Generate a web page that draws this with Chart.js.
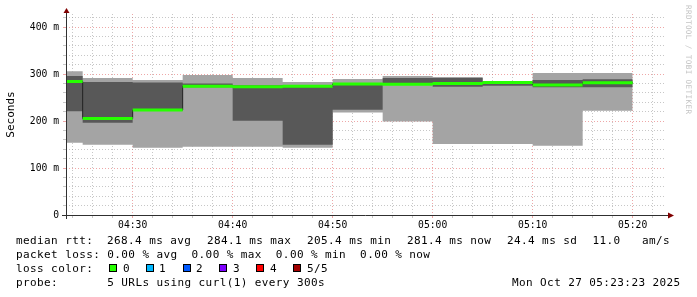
<!DOCTYPE html>
<html>
<head>
<meta charset="utf-8">
<script src="https://cdn.jsdelivr.net/npm/chart.js@4.4.1/dist/chart.umd.min.js"></script>
<style>
  html, body { margin: 0; padding: 0; background: #fff; }
  #wrap { position: relative; width: 697px; height: 297px; overflow: hidden; }
  #c { position: absolute; left: 0; top: 0; }
  .lg, .bl { position: absolute; left: 16px; font: 11px 'DejaVu Sans Mono', monospace; letter-spacing: 0.4px;
        white-space: pre; line-height: 14px; color: #000; }
  .box { position: absolute; top: 264px; width: 8px; height: 8px; box-sizing: border-box; border: 1px solid #000; }
</style>
</head>
<body>
<div id="wrap">
  <canvas id="c" width="697" height="297"></canvas>
  <div id="rtt"></div>
  <div class="lg" style="top:248px">packet loss: 0.00 % avg  0.00 % max  0.00 % min  0.00 % now</div>
  <div class="lg" style="top:262px">loss color:</div>
  <div id="losskey"></div>
  <div class="lg" style="top:276px">probe:       5 URLs using curl(1) every 300s</div>
  <div class="lg" style="top:276px;left:512px">Mon Oct 27 05:23:23 2025</div>
</div>
<script>
// 5-minute smokeping steps (5 pings each, sorted), values in ms
var stepStarts = ['04:20', '04:25', '04:30', '04:35', '04:40', '04:45', '04:50', '04:55', '05:00', '05:05', '05:10', '05:15'];
var stepEnd = '05:20';
var rttMin    = [154, 149.5, 143, 145, 145, 143, 218, 199, 151, 151, 147.5, 222];
var rttLow    = [221, 196.5, 222, 272, 200.5, 149.5, 224, 278, 273, 275, 272, 272];
var rttMedian = [284.1, 205.4, 223.4, 274, 273, 273.8, 279, 278.4, 279.8, 282, 276.6, 281.4];
var rttHigh   = [296, 283, 282, 280, 276, 276, 280, 291.5, 291.5, 284, 287, 289];
var rttMax    = [306, 291.5, 287, 298, 291.5, 283, 289.4, 295.7, 293.6, 285, 302, 302];

// graph window 04:23:20 .. 05:23:20
var viewStart = '04:23:20';
var viewEnd = '05:23:20';
var xMajorLabels = ['04:30', '04:40', '04:50', '05:00', '05:10', '05:20'];
var yMajorLabels = ['0', '100 m', '200 m', '300 m', '400 m'];
var yMax = 427.7;

// justified legend line (rrdtool stretches the gaps)
var rttFields = ['median rtt:', '268.4 ms avg', '284.1 ms max', '205.4 ms min', '281.4 ms now', '24.4 ms sd', '11.0', 'am/s'];
var rttFieldX = [16, 107, 207, 307, 407, 507, 592.5, 642];

var lossLabels = ['0', '1', '2', '3', '4', '5/5'];
var lossColors = ['#26ff00', '#00b8ff', '#0059ff', '#7e00ff', '#ff0000', '#a10000'];

function toMin(t) {
  var p = t.split(':').map(Number);
  return p[0] * 60 + p[1] + (p[2] || 0) / 60;
}

function stepped(arr) {
  var pts = stepStarts.map(function (t, i) { return { x: toMin(t), y: arr[i] }; });
  pts.push({ x: toMin(stepEnd), y: arr[arr.length - 1] });
  return pts;
}

// the green LINE3 only has the flat parts; verticals come from the dark LINE1
var greenPts = [];
stepStarts.forEach(function (t, i) {
  var x0 = toMin(t);
  var x1 = toMin(i + 1 < stepStarts.length ? stepStarts[i + 1] : stepEnd);
  greenPts.push({ x: x0, y: rttMedian[i] }, { x: x1, y: rttMedian[i] }, { x: x1, y: null });
});

var xTicks = [];
for (var m = Math.ceil(toMin(viewStart) / 2) * 2; m <= toMin(viewEnd); m += 2) xTicks.push(m);
var yTicks = [];
for (var v = 0; v <= yMax; v += 20) yTicks.push(v);

function hhmm(v) {
  var h = Math.floor(v / 60), mm = v % 60;
  return (h < 10 ? '0' : '') + h + ':' + (mm < 10 ? '0' : '') + mm;
}

var GRID = 'rgba(143,143,143,0.5)';
var MGRID = 'rgba(222,79,79,0.5)';
var MONO = 'DejaVu Sans Mono';

function band(data, fill, color, order) {
  return {
    data: data, stepped: true, fill: fill, backgroundColor: color,
    borderColor: 'rgba(0,0,0,0)', borderWidth: 1, pointRadius: 0, order: order
  };
}

var rrdFrame = {
  id: 'rrdFrame',
  afterDraw: function (chart) {
    var a = chart.chartArea, ctx = chart.ctx;
    ctx.save();
    ctx.strokeStyle = '#303030';
    ctx.lineWidth = 1;
    ctx.beginPath();
    ctx.moveTo(a.left - 4, a.bottom + 0.5); ctx.lineTo(a.right + 3, a.bottom + 0.5);
    ctx.moveTo(a.left + 0.5, a.bottom + 4); ctx.lineTo(a.left + 0.5, a.top - 3);
    ctx.stroke();
    ctx.fillStyle = '#800000';
    ctx.beginPath();
    ctx.moveTo(a.right + 2, a.bottom - 2.5); ctx.lineTo(a.right + 8, a.bottom + 0.5); ctx.lineTo(a.right + 2, a.bottom + 3.5);
    ctx.closePath(); ctx.fill();
    ctx.beginPath();
    ctx.moveTo(a.left - 2.5, a.top - 1); ctx.lineTo(a.left + 0.5, a.top - 6); ctx.lineTo(a.left + 3.5, a.top - 1);
    ctx.closePath(); ctx.fill();
    // watermark
    ctx.translate(687.5, 5);
    ctx.rotate(Math.PI / 2);
    ctx.font = '7.6px ' + MONO;
    ctx.letterSpacing = '0.4px';
    ctx.fillStyle = '#c4c4c4';
    ctx.textBaseline = 'middle';
    ctx.textAlign = 'left';
    ctx.fillText('RRDTOOL / TOBI OETIKER', 0, 0);
    ctx.restore();
  }
};

new Chart(document.getElementById('c').getContext('2d'), {
  type: 'line',
  data: {
    datasets: [
      band(stepped(rttMax), '+1', '#a4a4a4', 6),
      band(stepped(rttMin), false, '#a4a4a4', 5),
      band(stepped(rttHigh), '+1', '#585858', 4),
      band(stepped(rttLow), false, '#585858', 3),
      { data: stepped(rttMedian), stepped: true, fill: false, borderColor: '#202020', borderWidth: 1, pointRadius: 0, order: 2 },
      { data: greenPts, fill: false, borderColor: lossColors[0], borderWidth: 3, pointRadius: 0, spanGaps: false, order: 1 }
    ]
  },
  options: {
    responsive: false,
    animation: false,
    events: [],
    layout: { padding: { left: 0, top: 14, right: 31, bottom: 62 } },
    plugins: { legend: { display: false }, tooltip: { enabled: false } },
    scales: {
      x: {
        type: 'linear', min: toMin(viewStart), max: toMin(viewEnd), z: 1,
        afterFit: function (s) { s.height = 20; },
        afterBuildTicks: function (s) { s.ticks = xTicks.map(function (t) { return { value: t }; }); },
        border: { display: false, dash: [1, 2] },
        grid: {
          color: function (c) { return c.tick && c.tick.value % 10 === 0 ? MGRID : GRID; },
          tickColor: function (c) { return c.tick && c.tick.value % 10 === 0 ? MGRID : GRID; },
          tickLength: 3, lineWidth: 1
        },
        ticks: {
          autoSkip: false, maxRotation: 0, padding: 2, color: '#000',
          font: { family: MONO, size: 9.7 },
          callback: function (v) {
            var l = hhmm(v);
            return xMajorLabels.indexOf(l) >= 0 ? l : '';
          }
        }
      },
      y: {
        min: 0, max: yMax, z: 1,
        afterFit: function (s) { s.width = 66; },
        afterBuildTicks: function (s) { s.ticks = yTicks.map(function (t) { return { value: t }; }); },
        border: { display: false, dash: [1, 2] },
        grid: {
          color: function (c) {
            if (!c.tick || c.tick.value === 0) return 'rgba(0,0,0,0)';
            return c.tick.value % 100 === 0 ? MGRID : GRID;
          },
          tickColor: function (c) { return c.tick && c.tick.value % 100 === 0 ? MGRID : GRID; },
          tickLength: 3, lineWidth: 1
        },
        ticks: {
          autoSkip: false, padding: 4, color: '#000',
          font: { family: MONO, size: 9.7 },
          callback: function (v) { return v % 100 === 0 ? yMajorLabels[v / 100] : ''; }
        },
        title: {
          display: true, text: 'Seconds', color: '#000',
          font: { family: MONO, size: 11 }, padding: { top: 5, bottom: 0 }
        }
      }
    }
  },
  plugins: [rrdFrame]
});

// median rtt row
var rtt = document.getElementById('rtt');
rttFields.forEach(function (f, i) {
  var s = document.createElement('div');
  s.className = 'lg';
  s.style.top = '234px';
  s.style.left = rttFieldX[i] + 'px';
  s.textContent = f;
  rtt.appendChild(s);
});

// loss colour key
var key = document.getElementById('losskey');
lossLabels.forEach(function (l, i) {
  var x = 109 + i * 36.8;
  var b = document.createElement('div');
  b.className = 'box';
  b.style.left = Math.round(x) + 'px';
  b.style.background = lossColors[i];
  key.appendChild(b);
  var t = document.createElement('div');
  t.className = 'bl';
  t.style.top = '262px';
  t.style.left = Math.round(x + 13.5) + 'px';
  t.textContent = l;
  key.appendChild(t);
});
</script>
</body>
</html>
